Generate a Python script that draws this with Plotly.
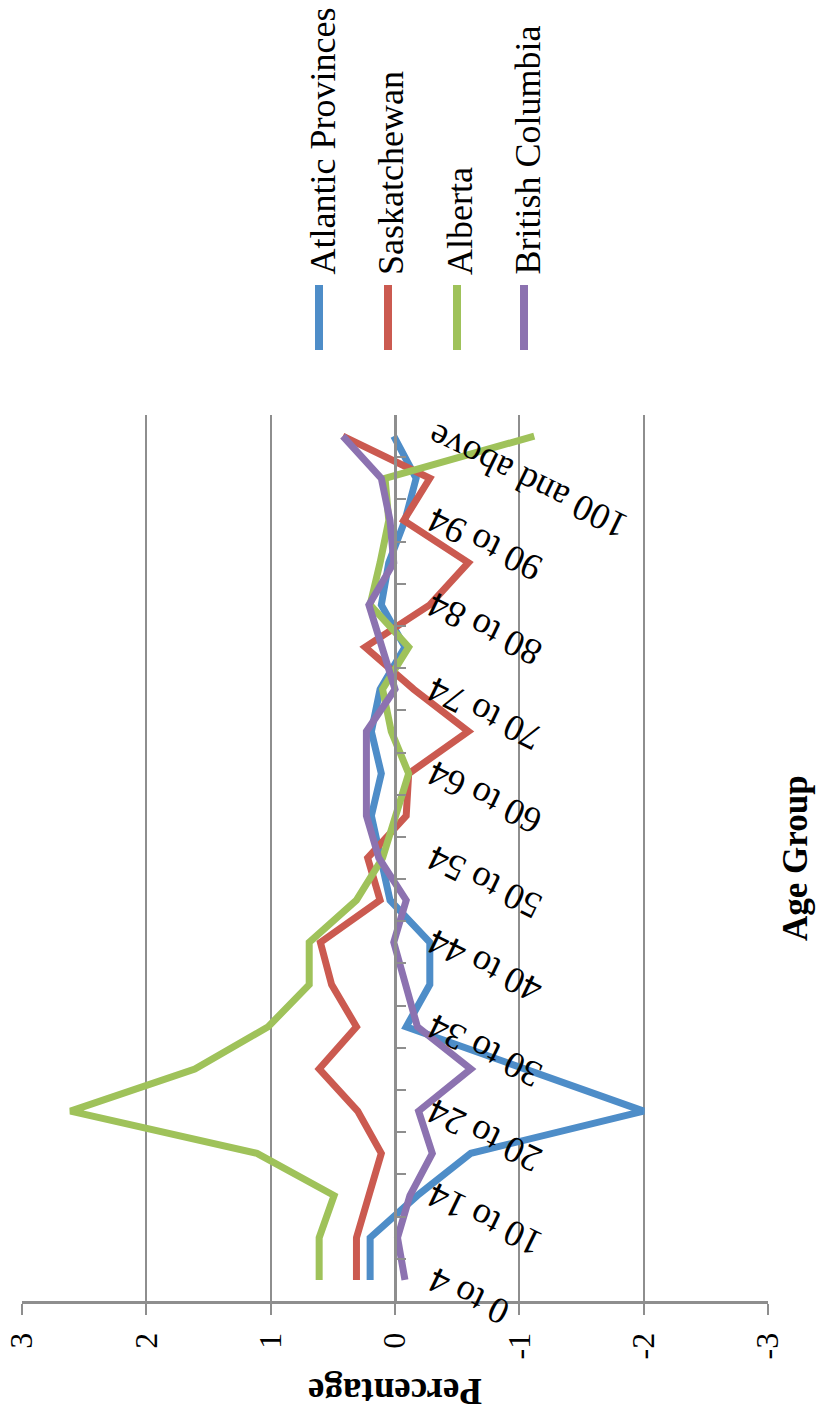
import plotly.graph_objects as go

# ---------------- data ----------------
age_groups = ["0 to 4", "5 to 9", "10 to 14", "15 to 19", "20 to 24", "25 to 29",
              "30 to 34", "35 to 39", "40 to 44", "45 to 49", "50 to 54", "55 to 59",
              "60 to 64", "65 to 69", "70 to 74", "75 to 79", "80 to 84", "85 to 89",
              "90 to 94", "95 to 99", "100 and above"]

atlantic = [0.20, 0.20, -0.18, -0.61, -2.00, -1.05, -0.09, -0.28, -0.28, 0.04, 0.12,
            0.19, 0.11, 0.19, 0.12, -0.08, 0.11, 0.05, -0.08, -0.17, 0.01]
saskatchewan = [0.31, 0.31, 0.21, 0.11, 0.30, 0.61, 0.31, 0.51, 0.60, 0.12, 0.22,
                -0.09, -0.11, -0.59, -0.15, 0.24, -0.28, -0.59, -0.07, -0.28, 0.42]
alberta = [0.61, 0.61, 0.49, 1.11, 2.61, 1.61, 1.02, 0.69, 0.69, 0.31, 0.10,
           -0.01, -0.11, 0.03, 0.10, -0.11, 0.20, 0.12, 0.05, 0.08, -1.12]
british_columbia = [-0.08, -0.02, -0.12, -0.30, -0.19, -0.61, -0.18, -0.09, 0.01, -0.09, 0.13,
                    0.23, 0.23, 0.23, 0.00, 0.10, 0.21, 0.01, 0.04, 0.11, 0.42]

series_names = ["Atlantic Provinces", "Saskatchewan", "Alberta", "British Columbia"]
series_values = [atlantic, saskatchewan, alberta, british_columbia]
series_colors = ["#4E8DC8", "#CB5A50", "#9FC25A", "#8C72B0"]

pct_ticks = [3, 2, 1, 0, -1, -2, -3]
pct_labels = ["3", "2", "1", "0", "-1", "-2", "-3"]

# ---------------- layout constants ----------------
W, H = 817, 1414
ML, MR, MT, MB = 22, 49, 415, 113
PW, PH = W - ML - MR, H - MT - MB
FONT = "Liberation Serif"
GRID = "#8E8E8E"


def px_x(px):
    return (px - ML) / PW


def px_y(py):
    return (H - MB - py) / PH


fig = go.Figure()
for name, vals, col in zip(series_names, series_values, series_colors):
    fig.add_trace(go.Scatter(x=vals, y=age_groups, mode="lines", name=name,
                             line=dict(color=col, width=7), showlegend=False))

annotations = []
# category labels (every other one), rotated like the reference
for i in range(0, len(age_groups), 2):
    annotations.append(dict(x=0, y=age_groups[i], xref="x", yref="y",
                            text=age_groups[i], showarrow=False, textangle=-154,
                            xanchor="left", yanchor="top", xshift=24, yshift=23,
                            font=dict(family=FONT, size=37, color="#000")))

# axis titles
annotations.append(dict(x=0.5, y=px_y(1392), xref="paper", yref="paper",
                        text="<b>Percentage</b>", showarrow=False, textangle=180,
                        xanchor="center", yanchor="middle",
                        font=dict(family=FONT, size=37, color="#000")))
annotations.append(dict(x=px_x(795), y=0.5, xref="paper", yref="paper",
                        text="<b>Age Group</b>", showarrow=False, textangle=-90,
                        xanchor="center", yanchor="middle",
                        font=dict(family=FONT, size=35, color="#000")))

# legend (rotated)
legend_x = [319, 388, 457, 524]
shapes = []
for name, col, lx in zip(series_names, series_colors, legend_x):
    shapes.append(dict(type="line", xref="paper", yref="paper",
                       x0=px_x(lx), x1=px_x(lx), y0=px_y(285), y1=px_y(350),
                       line=dict(color=col, width=8)))
    annotations.append(dict(x=px_x(lx + 3), y=px_y(277), xref="paper", yref="paper",
                            text=name, showarrow=False, textangle=-90,
                            xanchor="center", yanchor="bottom",
                            font=dict(family=FONT, size=36, color="#000")))

fig.update_layout(
    width=W, height=H, autosize=False,
    margin=dict(l=ML, r=MR, t=MT, b=MB),
    paper_bgcolor="white", plot_bgcolor="white",
    showlegend=False,
    annotations=annotations, shapes=shapes,
    xaxis=dict(range=[3, -3], tickvals=pct_ticks, ticktext=pct_labels, tickangle=-90,
               showgrid=True, gridcolor=GRID, gridwidth=2, zeroline=False,
               showline=True, linecolor=GRID, linewidth=3,
               ticks="outside", ticklen=11, tickwidth=2, tickcolor=GRID,
               ticklabelstandoff=5, automargin=False,
               tickfont=dict(family=FONT, size=32, color="#000")),
    yaxis=dict(type="category", categoryorder="array", categoryarray=age_groups,
               range=[-0.5, len(age_groups) - 0.5], automargin=False,
               showgrid=False, zeroline=False, showline=True, linecolor=GRID, linewidth=2.5,
               anchor="free", position=0.5, ticks="inside", tickson="boundaries",
               ticklen=9, tickwidth=2, tickcolor=GRID, showticklabels=False),
)

fig.write_html("out.html",
               config={"displayModeBar": False},
               post_script="document.body.style.margin='0';document.body.style.padding='0';"
                           "document.body.style.overflow='hidden';")
